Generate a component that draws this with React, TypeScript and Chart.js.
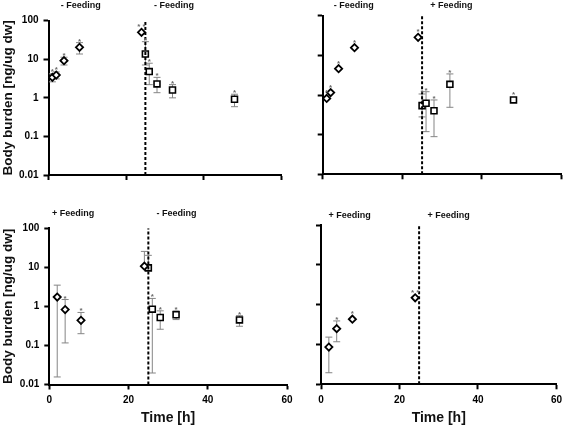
import React, { useEffect, useRef } from 'react';
import { Chart, registerables } from 'chart.js';

Chart.register(...registerables);

// ---------- data ----------
const yTicks = [0.01, 0.1, 1, 10, 100];
const xTicks = [0, 20, 40, 60];
const feedChangeT = 25;

// top-left
const tlDiaT = [1, 2, 4, 8, 24];
const tlDiaV = [3.4, 3.9, 9.2, 20.4, 50];
const tlDiaLo = [2.6, 3.1, 7.1, 13.7, null];
const tlDiaHi = [4.2, 4.7, 11.3, 27, null];
const tlDiaStar = ['*', '*', '*', '*', '**'];
const tlSqT = [25, 26, 28, 32, 48];
const tlSqV = [13.7, 4.8, 2.3, 1.6, 0.92];
const tlSqLo = [7.1, 2.2, 1.36, 1.0, 0.59];
const tlSqHi = [28.6, 7.9, 3.4, 2.2, 1.24];
const tlSqStar = ['*', '*', '*', '*', '*'];
const tlHeaders = ['- Feeding', '- Feeding'];
const tlHeaderT = [8.3, 32.4];

// top-right
const trDiaT = [1, 2, 4, 8, 24];
const trDiaV = [0.82, 1.15, 4.6, 15.6, 28.5];
const trDiaLo = [null, null, null, null, null];
const trDiaHi = [null, null, null, null, null];
const trDiaStar = ['*', '*', '*', '*', '*'];
const trSqT = [25, 26, 28, 32, 48];
const trSqV = [0.54, 0.62, 0.4, 1.86, 0.75];
const trSqLo = [0.28, 0.119, 0.089, 0.49, null];
const trSqHi = [1.06, 1.21, 0.75, 3.4, null];
const trSqStar = ['*', '*', '*', '*', '*'];
const trHeaders = ['- Feeding', '+ Feeding'];
const trHeaderT = [7.8, 32.4];

// bottom-left
const blDiaT = [2, 4, 8, 24];
const blDiaV = [1.74, 0.83, 0.44, 10.7];
const blDiaLo = [0.0156, 0.116, 0.2, 10.7];
const blDiaHi = [3.5, 1.5, 0.7, 25.6];
const blDiaStar = ['', '*', '*', ''];
const blSqT = [25, 26, 28, 32, 48];
const blSqV = [9.7, 0.85, 0.52, 0.61, 0.45];
const blSqLo = [9.7, 0.0197, 0.26, 0.46, 0.31];
const blSqHi = [20.3, 1.6, 0.77, 0.77, 0.58];
const blSqStar = ['', '*', '*', '*', '*'];
const blHeaders = ['+ Feeding', '- Feeding'];
const blHeaderT = [6, 32.1];

// bottom-right
const brDiaT = [2, 4, 8, 24];
const brDiaV = [0.086, 0.25, 0.43, 1.49];
const brDiaLo = [0.0195, 0.117, null, null];
const brDiaHi = [0.153, 0.39, null, null];
const brDiaStar = ['', '*', '*', '**'];
const brHeaders = ['+ Feeding', '+ Feeding'];
const brHeaderT = [7.3, 32.5];

const FONT = "'Liberation Sans', Arial, Helvetica, sans-serif";
const W = 567;
const H = 427;

type Series = {
  t: number[];
  v: number[];
  lo: (number | null)[];
  hi: (number | null)[];
  star: string[];
  style: 'rectRot' | 'rect';
};

type Panel = {
  diamonds: Series;
  squares?: Series;
  headers: string[];
  headerT: number[];
  // layout (pixels)
  L: number; R: number; T: number; B: number;
  headerY: number;
  showYLabels: boolean;
  showXLabels: boolean;
};

const panels: Panel[] = [
  {
    diamonds: { t: tlDiaT, v: tlDiaV, lo: tlDiaLo, hi: tlDiaHi, star: tlDiaStar, style: 'rectRot' },
    squares: { t: tlSqT, v: tlSqV, lo: tlSqLo, hi: tlSqHi, star: tlSqStar, style: 'rect' },
    headers: tlHeaders, headerT: tlHeaderT,
    L: 48.5, R: 281, T: 20.7, B: 175, headerY: 6,
    showYLabels: true, showXLabels: false,
  },
  {
    diamonds: { t: trDiaT, v: trDiaV, lo: trDiaLo, hi: trDiaHi, star: trDiaStar, style: 'rectRot' },
    squares: { t: trSqT, v: trSqV, lo: trSqLo, hi: trSqHi, star: trSqStar, style: 'rect' },
    headers: trHeaders, headerT: trHeaderT,
    L: 322.7, R: 563.3, T: 15.7, B: 174.3, headerY: 6,
    showYLabels: false, showXLabels: false,
  },
  {
    diamonds: { t: blDiaT, v: blDiaV, lo: blDiaLo, hi: blDiaHi, star: blDiaStar, style: 'rectRot' },
    squares: { t: blSqT, v: blSqV, lo: blSqLo, hi: blSqHi, star: blSqStar, style: 'rect' },
    headers: blHeaders, headerT: blHeaderT,
    L: 49.3, R: 287, T: 228.3, B: 384.5, headerY: 214,
    showYLabels: true, showXLabels: true,
  },
  {
    diamonds: { t: brDiaT, v: brDiaV, lo: brDiaLo, hi: brDiaHi, star: brDiaStar, style: 'rectRot' },
    headers: brHeaders, headerT: brHeaderT,
    L: 321, R: 560, T: 225, B: 384.3, headerY: 216,
    showYLabels: false, showXLabels: true,
  },
];

const starsPlugin = {
  id: 'stars',
  afterDatasetsDraw(chart: any) {
    const ctx = chart.ctx;
    const ys = chart.scales.y;
    ctx.save();
    ctx.fillStyle = '#6a6a6a';
    ctx.font = `bold 8px ${FONT}`;
    ctx.textAlign = 'center';
    ctx.textBaseline = 'alphabetic';
    chart.data.datasets.forEach((ds: any, di: number) => {
      if (!ds.stars) return;
      const meta = chart.getDatasetMeta(di);
      meta.data.forEach((el: any, i: number) => {
        const s = ds.stars[i];
        if (!s) return;
        let top = el.y - 4;
        const h = ds.hi ? ds.hi[i] : null;
        if (h != null) top = Math.min(top, ys.getPixelForValue(h));
        ctx.fillText(s.split('').join(' '), el.x, top + 1);
      });
    });
    ctx.restore();
  },
};

const headerPlugin = {
  id: 'headers',
  afterDraw(chart: any, _args: any, opts: any) {
    const ctx = chart.ctx;
    const xs = chart.scales.x;
    ctx.save();
    ctx.fillStyle = '#111';
    ctx.font = `bold 9px ${FONT}`;
    ctx.textAlign = 'center';
    ctx.textBaseline = 'middle';
    (opts.texts || []).forEach((t: string, i: number) => {
      ctx.fillText(t, xs.getPixelForValue(opts.at[i]), opts.y);
    });
    ctx.restore();
  },
};

function markerDataset(s: Series) {
  const isDia = s.style === 'rectRot';
  return {
    data: s.t.map((x, i) => ({ x, y: s.v[i] })),
    showLine: false,
    pointStyle: s.style,
    pointRadius: isDia ? 3.6 : 4.2,
    pointBackgroundColor: '#ffffff',
    pointBorderColor: '#000000',
    pointBorderWidth: isDia ? 1.8 : 1.6,
    backgroundColor: '#ffffff',
    borderColor: '#000000',
    order: 0,
    stars: s.star,
    hi: s.hi,
  };
}

function errorDatasets(s: Series) {
  const out: any[] = [];
  s.t.forEach((x, i) => {
    const lo = s.lo[i];
    const hi = s.hi[i];
    if (lo == null || hi == null) return;
    out.push({
      data: [{ x, y: lo }, { x, y: hi }],
      showLine: true,
      borderColor: '#858585',
      borderWidth: 1,
      pointStyle: 'line',
      pointRadius: 3.5,
      pointBorderColor: '#858585',
      pointBorderWidth: 1,
      pointBackgroundColor: '#858585',
      order: 1,
    });
  });
  return out;
}

function PanelChart({ p }: { p: Panel }) {
  const ref = useRef<HTMLCanvasElement | null>(null);
  useEffect(() => {
    if (!ref.current) return;
    const yw = p.showYLabels ? p.L : 12;
    const xh = p.showXLabels ? H - p.B : 12;
    const datasets: any[] = [
      {
        data: [{ x: feedChangeT, y: yTicks[0] }, { x: feedChangeT, y: yTicks[yTicks.length - 1] }],
        showLine: true,
        borderColor: '#000',
        borderWidth: 2,
        borderDash: [3, 2],
        pointRadius: 0,
        order: -1,
      },
      ...errorDatasets(p.diamonds),
      markerDataset(p.diamonds),
    ];
    if (p.squares) {
      datasets.push(...errorDatasets(p.squares));
      datasets.push(markerDataset(p.squares));
    }
    const tickFont = { family: FONT, size: 10, weight: 'bold' as const };
    const chart = new Chart(ref.current, {
      type: 'scatter',
      data: { datasets },
      plugins: [starsPlugin, headerPlugin],
      options: {
        animation: false,
        responsive: false,
        devicePixelRatio: 1,
        events: [],
        layout: {
          padding: {
            left: p.L - yw,
            right: W - p.R,
            top: p.T,
            bottom: H - p.B - xh,
          },
        },
        plugins: {
          legend: { display: false },
          tooltip: { enabled: false },
          headers: { texts: p.headers, at: p.headerT, y: p.headerY },
        } as any,
        scales: {
          x: {
            type: 'linear',
            position: 'bottom',
            min: xTicks[0],
            max: xTicks[xTicks.length - 1],
            afterBuildTicks: (s: any) => {
              s.ticks = xTicks.map((v) => ({ value: v }));
            },
            afterFit: (s: any) => {
              s.height = xh;
            },
            ticks: {
              autoSkip: false,
              maxRotation: 0,
              padding: 5,
              color: '#000',
              font: tickFont,
              callback: (v: any) => (p.showXLabels ? String(v) : ''),
            },
            grid: {
              display: true,
              drawOnChartArea: false,
              drawTicks: true,
              tickLength: 5,
              tickWidth: 2,
              tickColor: '#000',
              color: '#000',
            },
            border: { display: true, color: '#000', width: 2 },
            title: {
              display: p.showXLabels,
              text: 'Time [h]',
              color: '#111',
              font: { family: FONT, size: 14, weight: 'bold' },
              padding: 0,
            },
          },
          y: {
            type: 'logarithmic',
            position: 'left',
            min: yTicks[0],
            max: yTicks[yTicks.length - 1],
            afterBuildTicks: (s: any) => {
              s.ticks = yTicks.map((v) => ({ value: v }));
            },
            afterFit: (s: any) => {
              s.width = yw;
            },
            ticks: {
              autoSkip: false,
              padding: 5,
              color: '#000',
              font: tickFont,
              callback: (v: any) => (p.showYLabels ? String(v) : ''),
            },
            grid: {
              display: true,
              drawOnChartArea: false,
              drawTicks: true,
              tickLength: 5,
              tickWidth: 2,
              tickColor: '#000',
              color: '#000',
            },
            border: { display: true, color: '#000', width: 2 },
            title: {
              display: p.showYLabels,
              text: 'Body burden [ng/ug dw]',
              color: '#111',
              font: { family: FONT, size: 13.5, weight: 'bold' },
              padding: 0,
            },
          },
        },
      } as any,
    });
    return () => chart.destroy();
  }, [p]);
  return (
    <canvas
      ref={ref}
      width={W}
      height={H}
      style={{ position: 'absolute', left: 0, top: 0, width: W, height: H }}
    />
  );
}

export default function App() {
  return (
    <div
      style={{
        position: 'absolute',
        left: 0,
        top: 0,
        width: W,
        height: H,
        background: '#fff',
        overflow: 'hidden',
      }}
    >
      {panels.map((p, i) => (
        <PanelChart key={i} p={p} />
      ))}
    </div>
  );
}
